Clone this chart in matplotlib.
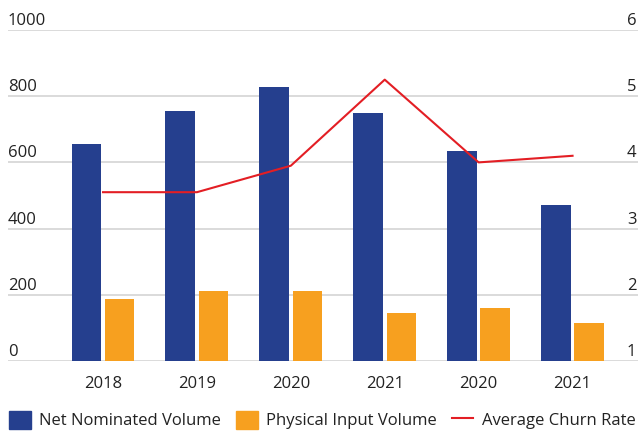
import numpy as np
import matplotlib.pyplot as plt
from matplotlib.patches import Patch
from matplotlib.lines import Line2D

years = ['2018', '2019', '2020', '2021', '2020', '2021']
net_nominated = [657, 755, 828, 748, 634, 471]
physical_input = [187, 211, 211, 145, 160, 115]
churn_rate = [3.55, 3.55, 3.95, 5.25, 4.0, 4.1]

left_ticks = [0, 200, 400, 600, 800, 1000]
right_ticks = [1, 2, 3, 4, 5, 6]

BLUE = '#253f8e'
ORANGE = '#f7a01f'
RED = '#e31e24'
GRID = '#d4d4d4'
TEXT = '#222222'

plt.rcParams['font.family'] = ['Open Sans', 'DejaVu Sans']
plt.rcParams['font.size'] = 12

fig = plt.figure(figsize=(6.38, 4.32), dpi=100)
W, H = 638, 432
ax = fig.add_axes([8 / W, (H - 361) / H, (W - 8) / W, 331 / H])

x = np.arange(len(years))
bw = 0.316
ax.bar(x - 0.177, net_nominated, bw, color=BLUE, zorder=2)
ax.bar(x + 0.177, physical_input, bw, color=ORANGE, zorder=2)

ax.set_ylim(0, 1000)
ax.set_xlim(-1.012, 5.697)
ax.set_yticks(left_ticks)
ax.set_yticklabels([])
ax.tick_params(axis='y', length=0)
ax.grid(axis='y', color=GRID, linewidth=1.2, zorder=0)
ax.set_axisbelow(True)
ax.set_xticks(x)
ax.set_xticklabels(years, color=TEXT)
ax.tick_params(axis='x', length=0, pad=11)
for s in ax.spines.values():
    s.set_visible(False)

# churn rate on its own scale (1-6)
ax2 = ax.twinx()
ax2.set_ylim(1, 6)
ax2.plot(x, churn_rate, color=RED, linewidth=1.5, zorder=3)
ax2.set_yticks([])
for s in ax2.spines.values():
    s.set_visible(False)

# tick labels sit just above their gridlines
for v in left_ticks:
    ax.annotate(str(v), xy=(0, v), xycoords=('axes fraction', 'data'),
                xytext=(0, 3.6), textcoords='offset points',
                ha='left', va='baseline', color=TEXT)
for v in right_ticks:
    ax2.annotate(str(v), xy=(619 / 630, v), xycoords=('axes fraction', 'data'),
                 xytext=(0, 3.6), textcoords='offset points',
                 ha='left', va='baseline', color=TEXT)

handles = [Patch(color=BLUE), Patch(color=ORANGE), Line2D([], [], color=RED, linewidth=1.5)]
labels = ['Net Nominated Volume', 'Physical Input Volume', 'Average Churn Rate']
fig.legend(handles, labels, loc='center left', bbox_to_anchor=(9 / W, (H - 420) / H),
           ncol=3, frameon=False, borderpad=0, borderaxespad=0,
           handlelength=1.3, handleheight=1.3, handletextpad=0.5,
           columnspacing=0.9, labelcolor=TEXT)

fig.savefig('out.png', dpi=100)
